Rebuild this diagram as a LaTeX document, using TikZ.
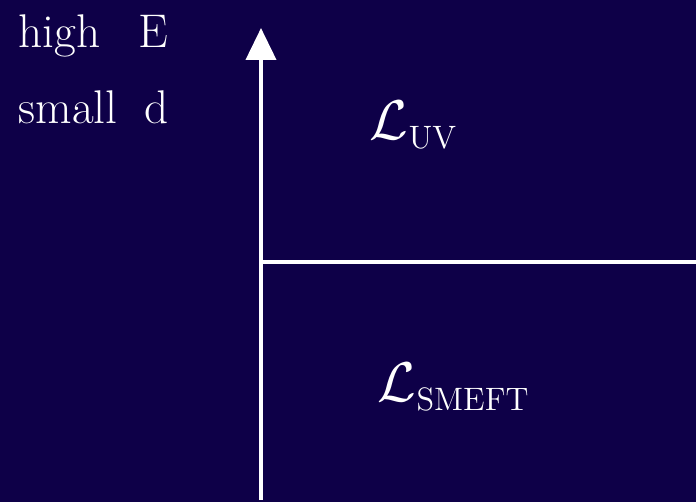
\documentclass[tikz,border=0pt]{standalone}
\usepackage{amsmath}
\usepackage{amssymb}
\usepackage{tikz}
\usetikzlibrary{arrows.meta}

\definecolor{boardblue}{RGB}{14,0,72}
\DeclareMathSizes{24.88}{24.88}{14.4}{12}

\begin{document}
\begin{tikzpicture}[x=1pt, y=-1pt,
    chalk/.style={white, line width=4pt},
    chalktext/.style={white, anchor=base west, font=\Huge, scale=1.9},
    lagtext/.style={white, anchor=base west, font=\Huge, scale=2.25}]
                % Board
                \fill[boardblue] (0,0) rectangle (696,502);
                \useasboundingbox (0,0) rectangle (696,502);

                % Axes
                \coordinate (bottom) at (261,500);
                \coordinate (top) at (261,28);
                \coordinate (origin) at (261,262);
                \coordinate (right) at (696,262);
                \draw[chalk, -{Triangle[length=32pt, width=30pt]}] (bottom) -- (top);
                \draw[chalk] (origin) -- (right);

                % Scale label
                \node[chalktext] (highE) at (12,48) {high\hspace{20pt}E};
                \node[chalktext] (smalld) at (12,124) {small\hspace{14pt}d};

                % Lagrangians
                \node[lagtext] (luv) at (362,140) {$\mathcal{L}_{\mathrm{UV}}$};
                \node[lagtext] (lsmeft) at (370,402) {$\mathcal{L}_{\mathrm{SMEFT}}$};
            \end{tikzpicture}
\end{document}
